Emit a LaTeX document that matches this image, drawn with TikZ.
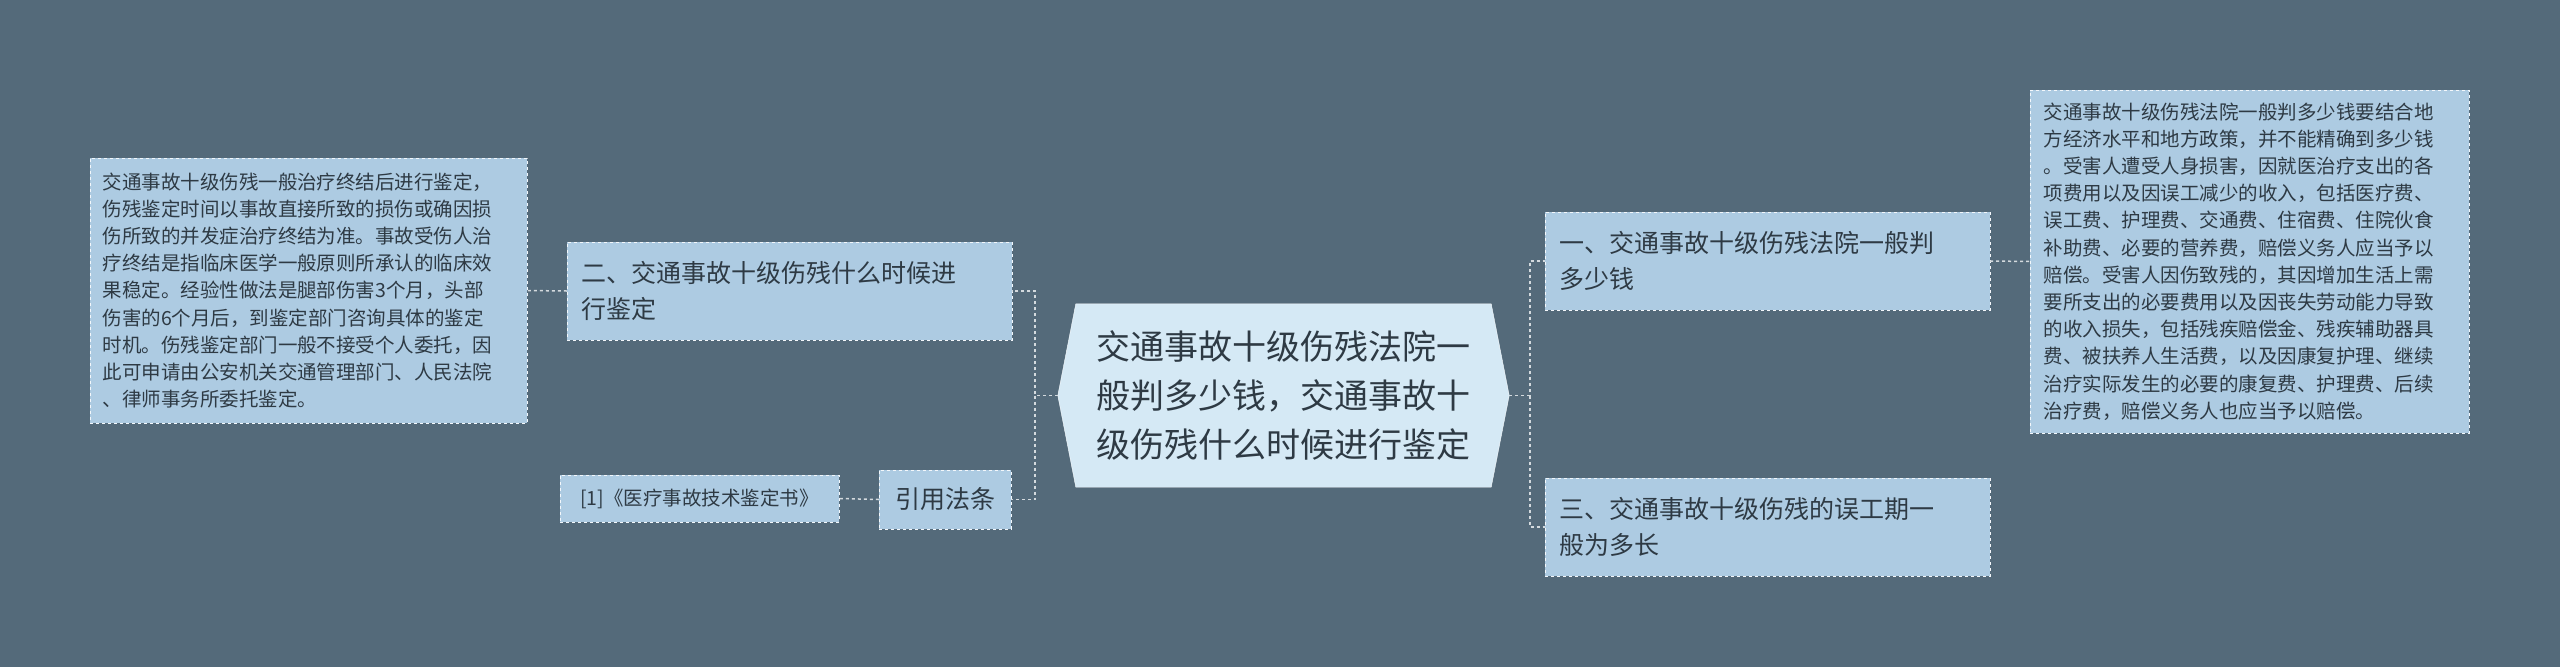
\documentclass[tikz,border=0pt]{standalone}
\usepackage{fontspec}
\newfontfamily\cjk{Noto Sans CJK SC}
\definecolor{bgcol}{HTML}{546A7A}
\definecolor{boxcol}{HTML}{ADCBE2}
\definecolor{rootcol}{HTML}{D5E9F5}
\definecolor{txtcol}{HTML}{2E3A44}
\tikzset{
  topic/.style={draw=white!85!boxcol, dashed, fill=boxcol, text=txtcol, align=left,
    inner xsep=14pt, inner ysep=0pt, minimum height=98pt, text width=417pt, font=\cjk\fontsize{25}{36}\selectfont},
  note/.style={draw=white!85!boxcol, dashed, fill=boxcol, text=txtcol, align=left,
    inner sep=0pt, font=\cjk\fontsize{19.5}{27.2}\selectfont},
  link/.style={draw=white!75!bgcol, dashed, line width=1.5pt}
}
\begin{document}
\begin{tikzpicture}[x=1pt, y=-1pt]
	\fill[bgcol] (0,0) rectangle (2560,667);
	\useasboundingbox (0,0) rectangle (2560,667);
	
	\node[text=txtcol, minimum width=451pt, minimum height=183pt,
		inner sep=0pt, align=center, font=\cjk\fontsize{34}{49}\selectfont]
		(root) at (1283.5,395.5) {交通事故十级伤残法院一\\般判多少钱，交通事故十\\级伤残什么时候进行鉴定};
	\begin{scope}[on background layer/.try]
	\end{scope}
	\fill[rootcol, draw=white!85!rootcol] (root.west) -- ([xshift=18pt]root.north west) -- ([xshift=-18pt]root.north east)
		-- (root.east) -- ([xshift=-18pt]root.south east) -- ([xshift=18pt]root.south west) -- cycle;
	\node[text=txtcol, inner sep=0pt, align=center, font=\cjk\fontsize{34}{49}\selectfont]
		at (root.center) {交通事故十级伤残法院一\\般判多少钱，交通事故十\\级伤残什么时候进行鉴定};
	
	\node[topic] (one) at (1767.5,261) {一、交通事故十级伤残法院一般判\\多少钱};
	\node[topic] (three) at (1767.5,527) {三、交通事故十级伤残的误工期一\\般为多长};
	\node[topic] (two) at (789.5,291) {二、交通事故十级伤残什么时候进\\行鉴定};
	\node[topic, text width=104pt, minimum height=59pt, align=center] (cite) at (945,499.5) {引用法条};
	
	\node[note, minimum width=439pt, minimum height=343pt, text width=412pt] (onetext) at (2249.5,261.5)
		{交通事故十级伤残法院一般判多少钱要结合地\\方经济水平和地方政策，并不能精确到多少钱\\。受害人遭受人身损害，因就医治疗支出的各\\项费用以及因误工减少的收入，包括医疗费、\\误工费、护理费、交通费、住宿费、住院伙食\\补助费、必要的营养费，赔偿义务人应当予以\\赔偿。受害人因伤致残的，其因增加生活上需\\要所支出的必要费用以及因丧失劳动能力导致\\的收入损失，包括残疾赔偿金、残疾辅助器具\\费、被扶养人生活费，以及因康复护理、继续\\治疗实际发生的必要的康复费、护理费、后续\\治疗费，赔偿义务人也应当予以赔偿。};
	\node[note, minimum width=437pt, minimum height=265pt, text width=412pt] (twotext) at (308.5,290.5)
		{交通事故十级伤残一般治疗终结后进行鉴定，\\伤残鉴定时间以事故直接所致的损伤或确因损\\伤所致的并发症治疗终结为准。事故受伤人治\\疗终结是指临床医学一般原则所承认的临床效\\果稳定。经验性做法是腿部伤害3个月，头部\\伤害的6个月后，到鉴定部门咨询具体的鉴定\\时机。伤残鉴定部门一般不接受个人委托，因\\此可申请由公安机关交通管理部门、人民法院\\、律师事务所委托鉴定。};
	\node[note, minimum width=279pt, minimum height=47pt, text width=260pt, align=center] (book) at (699.5,498.5)
		{[1]《医疗事故技术鉴定书》};
	
	% connectors
	\draw[link] (root.west) -- (1035,395.5) |- (two.east);
	\draw[link] (1035,395.5) |- (cite.east);
	\draw[link] (root.east) -- (1530,395.5) |- (one.west);
	\draw[link] (1530,395.5) |- (three.west);
	\draw[link] (one.east) -- (onetext.west);
	\draw[link] (two.west) -- (twotext.east);
	\draw[link] (cite.west) -- (book.east);
\end{tikzpicture}
\end{document}
